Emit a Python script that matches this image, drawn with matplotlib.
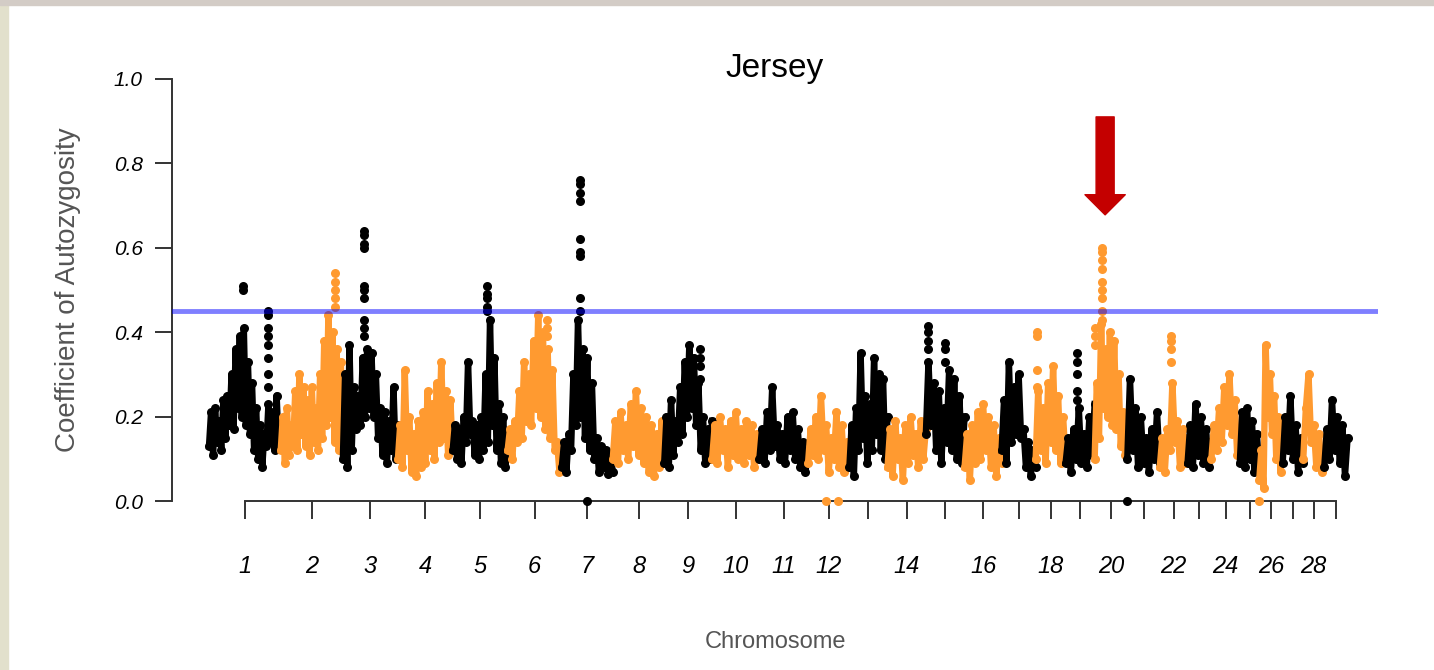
import numpy as np
import matplotlib.pyplot as plt
from matplotlib.patches import Rectangle

plt.rcParams['font.family'] = ['Liberation Sans', 'DejaVu Sans']

# chromosome lengths (Mb), bovine autosomes 1-29
chrom_len = [158.3, 137.1, 121.4, 120.8, 121.2, 119.5, 112.6, 113.4, 105.7, 104.3,
             107.3, 91.2, 84.2, 84.6, 85.3, 81.7, 75.2, 66.0, 64.1, 72.0,
             71.6, 61.4, 52.5, 62.7, 42.9, 51.7, 45.4, 46.3, 51.5]
tick_labels = ['1', '2', '3', '4', '5', '6', '7', '8', '9', '10', '11', '12', '', '14', '',
               '16', '', '18', '', '20', '', '22', '', '24', '', '26', '', '28', '']

# autozygosity along each chromosome (left to right)
chr1 = [0.13, 0.21, 0.11, 0.22, 0.14, 0.19, 0.12, 0.24, 0.15, 0.25, 0.18, 0.30, 0.17, 0.36, 0.22, 0.39,
        0.20, 0.41, 0.18, 0.33, 0.16, 0.28, 0.12, 0.22, 0.10, 0.18, 0.08, 0.16, 0.13, 0.23, 0.14, 0.21,
        0.12, 0.25, 0.13, 0.19]
chr2 = [0.12, 0.20, 0.09, 0.22, 0.11, 0.18, 0.13, 0.26, 0.12, 0.30, 0.16, 0.27, 0.13, 0.24, 0.11, 0.27,
        0.14, 0.22, 0.12, 0.30, 0.15, 0.38, 0.18, 0.44, 0.20, 0.40, 0.14, 0.36, 0.12, 0.33, 0.15]
chr3 = [0.10, 0.30, 0.08, 0.37, 0.12, 0.27, 0.17, 0.25, 0.18, 0.34, 0.20, 0.36, 0.22, 0.35, 0.20, 0.30,
        0.15, 0.22, 0.11, 0.21, 0.09, 0.19, 0.12, 0.27, 0.10, 0.18]
chr4 = [0.10, 0.18, 0.08, 0.31, 0.12, 0.20, 0.07, 0.16, 0.06, 0.19, 0.08, 0.21, 0.09, 0.26, 0.12, 0.23,
        0.10, 0.28, 0.14, 0.33, 0.15, 0.26, 0.11, 0.24, 0.12]
chr5 = [0.12, 0.18, 0.10, 0.17, 0.09, 0.20, 0.14, 0.33, 0.16, 0.19, 0.11, 0.18, 0.10, 0.20, 0.12, 0.30,
        0.14, 0.43, 0.18, 0.34, 0.12, 0.23, 0.09, 0.20, 0.08, 0.16]
chr6 = [0.12, 0.17, 0.10, 0.19, 0.14, 0.26, 0.15, 0.33, 0.19, 0.30, 0.18, 0.38, 0.22, 0.44, 0.20, 0.40,
        0.17, 0.36, 0.15, 0.31, 0.12, 0.14, 0.07, 0.12]
chr7 = [0.08, 0.14, 0.07, 0.16, 0.12, 0.30, 0.18, 0.43, 0.20, 0.36, 0.15, 0.34, 0.12, 0.28, 0.10, 0.15,
        0.07, 0.13, 0.08, 0.12, 0.065, 0.11, 0.07]
chr8 = [0.10, 0.19, 0.09, 0.21, 0.12, 0.18, 0.10, 0.23, 0.13, 0.26, 0.11, 0.22, 0.09, 0.20, 0.07, 0.18,
        0.06, 0.16, 0.08, 0.19, 0.09]
chr9 = [0.09, 0.20, 0.08, 0.24, 0.11, 0.19, 0.14, 0.27, 0.16, 0.33, 0.20, 0.37, 0.22, 0.34, 0.18, 0.28,
        0.12, 0.20, 0.09, 0.17, 0.10, 0.19]
chr10 = [0.10, 0.18, 0.09, 0.20, 0.12, 0.17, 0.08, 0.19, 0.11, 0.21, 0.10, 0.17, 0.09, 0.19, 0.11, 0.18,
         0.08, 0.16, 0.10]
chr11 = [0.10, 0.17, 0.09, 0.21, 0.12, 0.27, 0.13, 0.18, 0.10, 0.16, 0.09, 0.20, 0.12, 0.21, 0.10, 0.17,
         0.08, 0.14, 0.07, 0.12]
chr12 = [0.09, 0.17, 0.11, 0.20, 0.10, 0.25, 0.12, 0.18, 0.07, 0.15, 0.10, 0.21, 0.08, 0.18, 0.07, 0.14, 0.09]
chr13 = [0.08, 0.18, 0.06, 0.22, 0.12, 0.35, 0.15, 0.25, 0.09, 0.23, 0.12, 0.34, 0.16, 0.30, 0.12, 0.29,
         0.10, 0.20]
chr14 = [0.08, 0.17, 0.06, 0.19, 0.10, 0.15, 0.05, 0.18, 0.09, 0.20, 0.11, 0.16, 0.08, 0.19, 0.10, 0.17]
chr15 = [0.16, 0.33, 0.18, 0.28, 0.12, 0.26, 0.09, 0.22, 0.14, 0.31, 0.12, 0.29, 0.10, 0.25, 0.09, 0.20]
chr16 = [0.08, 0.16, 0.05, 0.18, 0.09, 0.21, 0.10, 0.23, 0.12, 0.20, 0.08, 0.18, 0.06, 0.15, 0.09]
chr17 = [0.12, 0.24, 0.09, 0.33, 0.14, 0.27, 0.16, 0.30, 0.15, 0.17, 0.08, 0.14, 0.06, 0.12, 0.08]
chr18 = [0.10, 0.26, 0.12, 0.22, 0.09, 0.28, 0.14, 0.32, 0.12, 0.25, 0.09, 0.20, 0.10]
chr19 = [0.09, 0.15, 0.07, 0.17, 0.10, 0.22, 0.09, 0.16, 0.08, 0.20, 0.11, 0.23]
chr20 = [0.10, 0.28, 0.15, 0.42, 0.22, 0.36, 0.20, 0.40, 0.18, 0.38, 0.17, 0.30, 0.13, 0.21, 0.11, 0.18]
chr21 = [0.10, 0.29, 0.12, 0.22, 0.08, 0.20, 0.09, 0.15, 0.07, 0.17, 0.10, 0.21, 0.09]
chr22 = [0.08, 0.15, 0.07, 0.17, 0.12, 0.28, 0.14, 0.19, 0.08, 0.17, 0.09, 0.15]
chr23 = [0.09, 0.18, 0.08, 0.23, 0.11, 0.20, 0.09, 0.17, 0.08, 0.14]
chr24 = [0.10, 0.18, 0.12, 0.22, 0.14, 0.27, 0.18, 0.30, 0.16, 0.24, 0.11, 0.17]
chr25 = [0.09, 0.21, 0.08, 0.22, 0.10, 0.19, 0.07, 0.16, 0.08]
chr26 = [0.05, 0.12, 0.03, 0.37, 0.20, 0.30, 0.16, 0.25, 0.10, 0.20, 0.07, 0.15]
chr27 = [0.09, 0.20, 0.12, 0.25, 0.10, 0.18, 0.07, 0.15, 0.09]
chr28 = [0.10, 0.22, 0.30, 0.14, 0.18, 0.08, 0.16, 0.07, 0.12]
chr29 = [0.08, 0.17, 0.10, 0.24, 0.12, 0.20, 0.09, 0.18, 0.06, 0.15]

profiles = [chr1, chr2, chr3, chr4, chr5, chr6, chr7, chr8, chr9, chr10, chr11, chr12, chr13, chr14,
            chr15, chr16, chr17, chr18, chr19, chr20, chr21, chr22, chr23, chr24, chr25, chr26,
            chr27, chr28, chr29]

# isolated SNPs standing apart from the band (chromosome, relative position, value)
spike_chr = [1, 1, 1, 1, 1, 1, 1, 1, 1, 1,
             2, 2, 2, 2, 2,
             3, 3, 3, 3, 3, 3, 3, 3, 3, 3,
             5, 5, 5, 5, 5,
             6, 6, 6,
             7, 7, 7, 7, 7, 7, 7, 7, 7, 7,
             9, 9, 9, 9,
             12, 12,
             15, 15, 15, 15, 15, 15, 15,
             18, 18, 18, 18,
             19, 19, 19, 19, 19,
             20, 20, 20, 20, 20, 20, 20, 20, 20, 20, 20, 20,
             21, 22, 22, 22, 22, 26]
spike_pos = [0.47, 0.47, 0.82, 0.82, 0.82, 0.82, 0.82, 0.82, 0.82, 0.82,
             0.87, 0.87, 0.87, 0.87, 0.87,
             0.38, 0.38, 0.38, 0.38, 0.38, 0.38, 0.38, 0.38, 0.38, 0.38,
             0.62, 0.62, 0.62, 0.62, 0.62,
             0.72, 0.72, 0.72,
             0.35, 0.35, 0.35, 0.35, 0.35, 0.35, 0.35, 0.35, 0.35, 0.5,
             0.75, 0.75, 0.75, 0.75,
             0.44, 0.73,
             0.05, 0.05, 0.05, 0.05, 0.5, 0.5, 0.5,
             0.03, 0.03, 0.03, 0.03,
             0.4, 0.4, 0.4, 0.4, 0.4,
             0.0, 0.0, 0.0, 0.22, 0.22, 0.22, 0.22, 0.22, 0.22, 0.22, 0.22, 0.22,
             0.0, 0.4, 0.4, 0.4, 0.4, 0.0]
spike_val = [0.50, 0.51, 0.45, 0.44, 0.41, 0.39, 0.37, 0.34, 0.30, 0.27,
             0.54, 0.52, 0.50, 0.48, 0.46,
             0.64, 0.63, 0.61, 0.60, 0.51, 0.50, 0.48, 0.43, 0.41, 0.39,
             0.51, 0.49, 0.48, 0.46, 0.45,
             0.43, 0.41, 0.39,
             0.76, 0.75, 0.73, 0.71, 0.62, 0.59, 0.58, 0.48, 0.45, 0.0,
             0.36, 0.34, 0.32, 0.29,
             0.0, 0.0,
             0.415, 0.40, 0.38, 0.36, 0.375, 0.36, 0.33,
             0.40, 0.39, 0.31, 0.27,
             0.35, 0.33, 0.30, 0.26, 0.24,
             0.41, 0.39, 0.37, 0.60, 0.59, 0.57, 0.55, 0.52, 0.50, 0.48, 0.45, 0.43,
             0.0, 0.39, 0.38, 0.36, 0.33, 0.0]

threshold = 0.45

colors = ['#000000', '#ff9a30']

fig = plt.figure(figsize=(14.34, 6.70), dpi=100)
fig.patches.append(Rectangle((0, 0), 8 / 1434, 1, transform=fig.transFigure,
                             color='#e2e0cc', zorder=0))
fig.patches.append(Rectangle((0, 1 - 5 / 670), 1, 5 / 670, transform=fig.transFigure,
                             color='#d3ccc6', zorder=0))

ax = fig.add_axes([172 / 1434, 152 / 670, 1206 / 1434, 456 / 670])

starts = np.concatenate([[0], np.cumsum(chrom_len)[:-1]])
mids = starts + np.array(chrom_len) / 2

for i, vals in enumerate(profiles):
    x = np.linspace(starts[i], starts[i] + chrom_len[i], len(vals))
    ax.plot(x, vals, color=colors[i % 2], lw=4.6, marker='o', ms=6.5, mew=0,
            solid_joinstyle='round', zorder=2)

for c, p, v in zip(spike_chr, spike_pos, spike_val):
    x = starts[c - 1] + p * chrom_len[c - 1]
    ax.plot(x, v, 'o', color=colors[(c - 1) % 2], ms=6.5, mew=0, zorder=3, clip_on=False)

ax.axhline(threshold, color='blue', alpha=0.5, lw=3.5, zorder=4)

ax.set_xlim(-81.6, 2579)
ax.set_ylim(-0.04, 1.04)

for s in ['top', 'right']:
    ax.spines[s].set_visible(False)
ax.spines['left'].set_bounds(0, 1)
ax.spines['bottom'].set_position(('data', 0))
ax.spines['bottom'].set_bounds(mids[0], mids[-1])
for s in ['left', 'bottom']:
    ax.spines[s].set_linewidth(1.4)
    ax.spines[s].set_color('#333333')

ax.set_yticks([0, 0.2, 0.4, 0.6, 0.8, 1.0], labels=['0.0', '0.2', '0.4', '0.6', '0.8', '1.0'])
ax.set_xticks(mids, labels=tick_labels)
ax.tick_params(axis='y', length=12, width=1.4, pad=9, labelsize=15, color='#333333')
ax.tick_params(axis='x', length=13, width=1.4, pad=26, labelsize=17, color='#333333')
plt.setp(ax.get_yticklabels() + ax.get_xticklabels(), fontstyle='italic')

fig.text(775 / 1434, 1 - 68 / 670, 'Jersey', ha='center', va='center', fontsize=24)
fig.text(68 / 1434, 1 - 290 / 670, 'Coefficient of Autozygosity', rotation=90,
         ha='center', va='center', fontsize=20, color='#555555')
fig.text(775 / 1434, 1 - 642 / 670, 'Chromosome', ha='center', va='center',
         fontsize=17, color='#555555')

# red arrow pointing at the chromosome 20 peak
ax.annotate('', xy=(1977, 0.678), xytext=(1977, 0.91),
            arrowprops=dict(arrowstyle='simple,head_length=1.45,head_width=2.9,tail_width=1.3',
                            color='#c40000', mutation_scale=10, shrinkA=0, shrinkB=0))

fig.savefig('out.png', dpi=100)
